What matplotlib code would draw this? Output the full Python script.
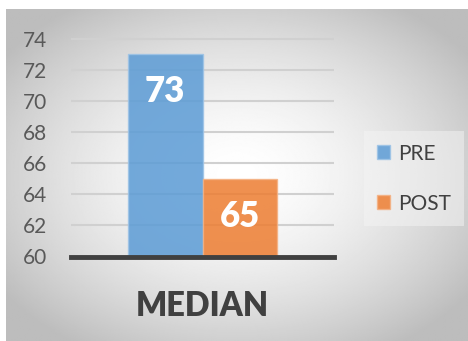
import numpy as np
import matplotlib
matplotlib.use('Agg')
import matplotlib.pyplot as plt
from matplotlib.patches import Patch

plt.rcParams['font.family'] = ['Lato', 'DejaVu Sans']

# data
category = ['MEDIAN']
series = ['PRE', 'POST']
values = [73, 65]
colors = ['#5B9BD5', '#ED7D31']
edges = ['#9dc3e6', '#f4b183']
yticks = [60, 62, 64, 66, 68, 70, 72, 74]

W, H = 468, 341
fig = plt.figure(figsize=(W/100., H/100.), dpi=100)

# grey frame with soft radial light in the middle
bg = fig.add_axes([6./W, 0, 1-6./W, 1-9./H])
bg.set_axis_off()
yy, xx = np.mgrid[0:1:300j, 0:1:400j]
r = np.sqrt(((xx-0.5)/0.62)**2 + ((yy-0.5)/0.62)**2)
shade = 1 - 0.26*np.clip(r, 0, 1)**1.6
bg.imshow(shade, cmap='gray', vmin=0, vmax=1, aspect='auto',
          extent=[0, 1, 0, 1], interpolation='bilinear')

ax = fig.add_axes([71./W, 1-256.5/H, (334-71.)/W, (256.5-37.)/H])
ax.patch.set_alpha(0)

w = 0.285
xpos = [-w/2, w/2]
for i in range(len(series)):
    ax.bar(xpos[i], values[i]-60, bottom=60, width=w, color=colors[i],
           alpha=0.85, edgecolor=edges[i], linewidth=1, zorder=3)
    ax.annotate(str(values[i]), xy=(xpos[i], values[i]),
                xytext=(0, -27), textcoords='offset points',
                ha='center', va='center', color='white',
                fontsize=25, fontweight='heavy', zorder=4)

ax.set_xlim(-0.5, 0.5)
ax.set_ylim(60, 74.1)
ax.set_yticks(yticks)
ax.yaxis.grid(True, color='#d0d0d0', lw=1.5, zorder=1)
ax.set_axisbelow(True)
ax.axhline(60, color='#404040', lw=3.5, zorder=5, clip_on=False)
for s in ax.spines.values():
    s.set_visible(False)
ax.tick_params(axis='y', length=0, pad=17, labelsize=15, labelcolor='#595959')
ax.set_xticks([0])
ax.set_xticklabels(category, fontsize=23.5, fontweight='heavy', color='#404040')
ax.tick_params(axis='x', length=0, pad=24)

handles = [Patch(facecolor=colors[i], edgecolor=edges[i], alpha=0.85)
           for i in range(len(series))]
leg = fig.legend(handles, series, loc='upper left',
                 bbox_to_anchor=(364./W, 1-131./H), fontsize=15,
                 labelcolor='#404040', handlelength=0.65, handleheight=0.65,
                 handletextpad=0.4, labelspacing=1.45, borderpad=0.6,
                 borderaxespad=0.0, fancybox=False, frameon=True)
leg.get_frame().set_facecolor('#f4f4f4')
leg.get_frame().set_alpha(0.5)
leg.get_frame().set_edgecolor('none')

fig.savefig('out.png', dpi=100)
